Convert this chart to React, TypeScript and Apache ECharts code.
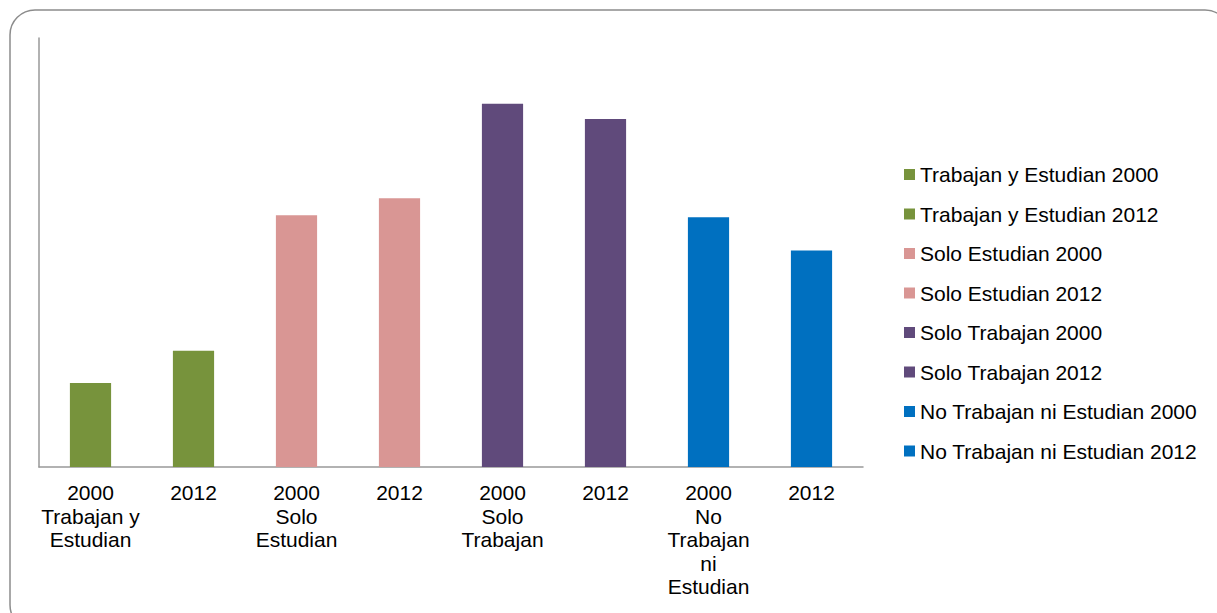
import React, { useEffect, useRef } from "react";
import * as echarts from "echarts";

const categories = [
  "2000\nTrabajan y\nEstudian",
  "2012",
  "2000\nSolo\nEstudian",
  "2012",
  "2000\nSolo\nTrabajan",
  "2012",
  "2000\nNo\nTrabajan\nni\nEstudian",
  "2012",
];
const seriesNames = [
  "Trabajan y Estudian 2000",
  "Trabajan y Estudian 2012",
  "Solo Estudian 2000",
  "Solo Estudian 2012",
  "Solo Trabajan 2000",
  "Solo Trabajan 2012",
  "No Trabajan ni Estudian 2000",
  "No Trabajan ni Estudian 2012",
];
const values = [8.8, 12.2, 26.4, 28.2, 38.1, 36.5, 26.2, 22.7];
const colors = ["#77933C", "#77933C", "#D99694", "#D99694", "#604A7B", "#604A7B", "#0070C0", "#0070C0"];

const FONT = "Liberation Sans, Arial, sans-serif";

export default function App() {
  const ref = useRef<HTMLDivElement>(null);
  useEffect(() => {
    if (!ref.current) return;
    const chart = echarts.init(ref.current, undefined, { renderer: "svg" });
    const series = seriesNames.map((name, i) => ({
      name,
      type: "bar",
      stack: "all",
      barWidth: "40%",
      itemStyle: { color: colors[i] },
      data: values.map((v, j) => (j === i ? v : "-")),
    }));
    chart.setOption({
      animation: false,
      textStyle: { fontFamily: FONT },
      graphic: [
        {
          type: "rect",
          shape: { x: 10, y: 10, width: 1220, height: 620, r: 25 },
          style: { fill: "none", stroke: "#8c8c8c", lineWidth: 1.5 },
          silent: true,
        },
      ],
      grid: { left: 39, top: 38, right: 354, bottom: 146, containLabel: false },
      legend: {
        orient: "vertical",
        left: 904,
        top: 164,
        padding: 0,
        itemWidth: 11,
        itemHeight: 11,
        itemGap: 18.5,
        icon: "rect",
        textStyle: { fontSize: 21, color: "#000", fontFamily: FONT, lineHeight: 21 },
        data: seriesNames,
        selectedMode: false,
      },
      xAxis: {
        type: "category",
        data: categories,
        axisLine: { lineStyle: { color: "#999", width: 1.5 } },
        axisTick: { show: false },
        axisLabel: {
          interval: 0,
          margin: 14,
          fontSize: 21,
          lineHeight: 23.5,
          color: "#000",
          fontFamily: FONT,
          align: "center",
        },
      },
      yAxis: {
        type: "value",
        min: 0,
        max: 45,
        axisLine: { show: true, lineStyle: { color: "#999", width: 1.5 } },
        axisTick: { show: false },
        axisLabel: { show: false },
        splitLine: { show: false },
      },
      series,
    });
    return () => chart.dispose();
  }, []);
  return (
    <div
      ref={ref}
      style={{ position: "fixed", left: 0, top: 0, width: 1217, height: 613, background: "#fff" }}
    />
  );
}
